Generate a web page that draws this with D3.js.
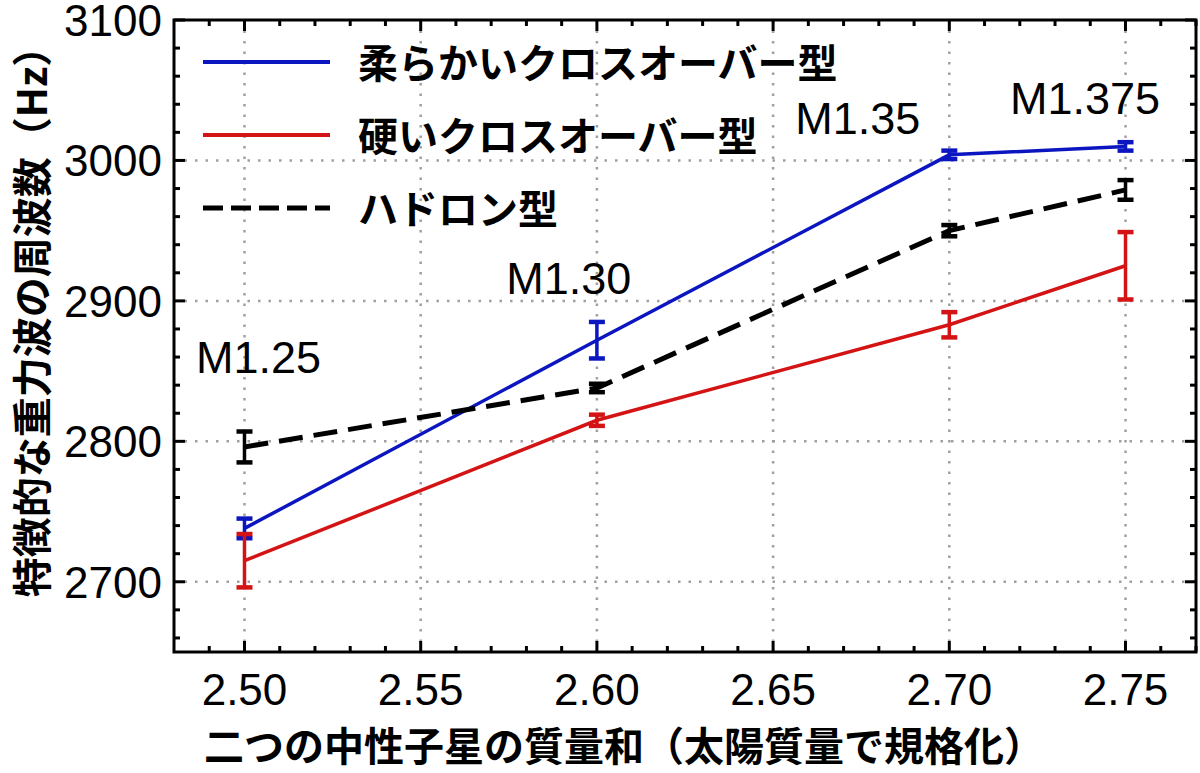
<!DOCTYPE html>
<meta charset="utf-8">
<script src="https://d3js.org/d3.v7.js"></script>
<style>
  body { margin: 0; background: #fff; }
  .num { font-family: "Liberation Sans", Arial, sans-serif; }
  .jp { font-family: "Noto Sans CJK JP", sans-serif; font-weight: bold; }
</style>
<div id="my_dataviz"></div>
<script>
    // data
    var masses = [2.50, 2.60, 2.70, 2.75];
    var massLabels = ["M1.25", "M1.30", "M1.35", "M1.375"];
    var softFreq = [2738, 2872, 3004, 3010];
    var softErr = [7, 13, 3, 3];
    var hardFreq = [2715, 2815, 2883, 2925];
    var hardErr = [19, 4, 9, 24];
    var hadronFreq = [2796, 2838, 2950, 2979];
    var hadronErr = [11, 3, 4, 7];
    var seriesNames = ["柔らかいクロスオーバー型", "硬いクロスオーバー型", "ハドロン型"];
    var xTicks = [2.50, 2.55, 2.60, 2.65, 2.70, 2.75];
    var yTicks = [2700, 2800, 2900, 3000, 3100];

    var margin = {top: 20, right: 4, bottom: 121, left: 174},
        width = 1200 - margin.left - margin.right,
        height = 773 - margin.top - margin.bottom;

    var svg = d3.select("#my_dataviz")
        .append("svg")
        .attr("width", 1200)
        .attr("height", 773)
        .append("g")
        .attr("transform", "translate(" + margin.left + "," + margin.top + ")");

    var x = d3.scaleLinear().domain([2.48, 2.77]).range([0, width]);
    var y = d3.scaleLinear().domain([2650, 3100]).range([height, 0]);

    // dotted grid
    svg.append("g").selectAll("line").data(xTicks).enter().append("line")
        .attr("x1", d => x(d)).attr("x2", d => x(d))
        .attr("y1", 0).attr("y2", height)
        .attr("stroke", "#a0a0a0").attr("stroke-width", 2.5)
        .attr("stroke-dasharray", "2.5,8");
    svg.append("g").selectAll("line").data(yTicks.filter(d => d < 3100)).enter().append("line")
        .attr("y1", d => y(d)).attr("y2", d => y(d))
        .attr("x1", 0).attr("x2", width)
        .attr("stroke", "#a0a0a0").attr("stroke-width", 2.5)
        .attr("stroke-dasharray", "2.5,8");

    // inward ticks on all four sides
    var xMinor = d3.range(2.49, 2.7701, 0.01);
    var yMinor = d3.range(2660, 3100.1, 20);
    function isMajorX(d) { return Math.abs(d * 20 - Math.round(d * 20)) < 1e-6; }
    function isMajorY(d) { return d % 100 === 0; }
    var tk = svg.append("g").attr("stroke", "#000").attr("stroke-width", 3);
    xMinor.forEach(function (d) {
        var len = isMajorX(d) ? 11 : 6;
        tk.append("line").attr("x1", x(d)).attr("x2", x(d)).attr("y1", height).attr("y2", height - len);
        tk.append("line").attr("x1", x(d)).attr("x2", x(d)).attr("y1", 0).attr("y2", len);
    });
    yMinor.forEach(function (d) {
        var len = isMajorY(d) ? 11 : 6;
        tk.append("line").attr("y1", y(d)).attr("y2", y(d)).attr("x1", 0).attr("x2", len);
        tk.append("line").attr("y1", y(d)).attr("y2", y(d)).attr("x1", width).attr("x2", width - len);
    });

    // frame
    svg.append("rect").attr("width", width).attr("height", height)
        .attr("fill", "none").attr("stroke", "#000").attr("stroke-width", 3);

    // tick labels
    svg.append("g").selectAll("text").data(xTicks).enter().append("text")
        .attr("class", "num").attr("x", d => x(d)).attr("y", height + 53)
        .attr("text-anchor", "middle").attr("font-size", 44)
        .text(d => d.toFixed(2));
    svg.append("g").selectAll("text").data(yTicks).enter().append("text")
        .attr("class", "num").attr("x", -12).attr("y", d => y(d) + 16)
        .attr("text-anchor", "end").attr("font-size", 44)
        .text(d => d);

    // series
    var series = [
        {freq: softFreq, err: softErr, color: "#0c16c0", width: 3.5, dash: null},
        {freq: hardFreq, err: hardErr, color: "#d41414", width: 3.5, dash: null},
        {freq: hadronFreq, err: hadronErr, color: "#000", width: 5, dash: "24,11"}
    ];
    var line = d3.line().x(d => x(d[0])).y(d => y(d[1]));

    series.forEach(function (s) {
        var pts = masses.map((m, i) => [m, s.freq[i], s.err[i]]);
        svg.append("path").datum(pts)
            .attr("d", line).attr("fill", "none")
            .attr("stroke", s.color).attr("stroke-width", s.width)
            .attr("stroke-dasharray", s.dash);
        var eb = svg.append("g").attr("stroke", s.color).attr("stroke-width", 3.5);
        pts.forEach(function (p) {
            eb.append("line").attr("x1", x(p[0])).attr("x2", x(p[0]))
                .attr("y1", y(p[1] - p[2])).attr("y2", y(p[1] + p[2]));
            [p[1] - p[2], p[1] + p[2]].forEach(function (v) {
                eb.append("line").attr("x1", x(p[0]) - 8).attr("x2", x(p[0]) + 8)
                    .attr("y1", y(v)).attr("y2", y(v)).attr("stroke-width", 4.5);
            });
        });
    });

    // mass labels
    var labelX = [2.504, 2.592, 2.674, 2.7385];
    var labelY = [2849, 2905, 3019, 3033];
    svg.append("g").selectAll("text").data(massLabels).enter().append("text")
        .attr("class", "num").attr("x", (d, i) => x(labelX[i])).attr("y", (d, i) => y(labelY[i]))
        .attr("text-anchor", "middle").attr("font-size", 45)
        .text(d => d);

    // legend
    var leg = svg.append("g").attr("transform", "translate(29,42)");
    series.forEach(function (s, i) {
        leg.append("line").attr("x1", 0).attr("x2", 127)
            .attr("y1", i * 73).attr("y2", i * 73)
            .attr("stroke", s.color).attr("stroke-width", s.dash ? 5 : 4)
            .attr("stroke-dasharray", s.dash ? "20,8" : null);
        leg.append("text").attr("class", "jp")
            .attr("x", 155).attr("y", i * 73 + 16)
            .attr("font-size", 40)
            .text(seriesNames[i]);
    });

    // axis titles
    svg.append("text").attr("class", "jp")
        .attr("x", 450).attr("y", height + 109)
        .attr("text-anchor", "middle").attr("font-size", 40)
        .text("二つの中性子星の質量和（太陽質量で規格化）");
    svg.append("text").attr("class", "jp")
        .attr("transform", "translate(-127," + (312 - margin.top) + ") rotate(-90)")
        .attr("text-anchor", "middle").attr("font-size", 40)
        .text("特徴的な重力波の周波数（Hz）");
</script>
